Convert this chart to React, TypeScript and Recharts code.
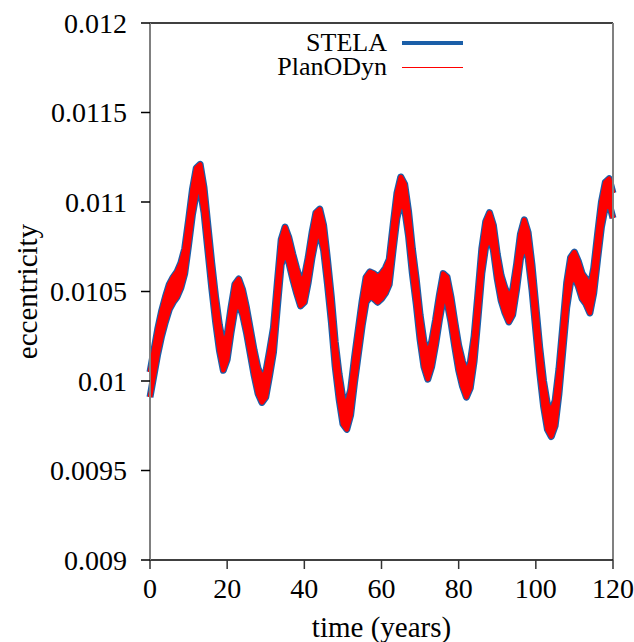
import { Area, ComposedChart, ReferenceLine, XAxis, YAxis } from 'recharts'

const years = Array.from({ length: 121 }, (_, i) => i)

// mean eccentricity, one value per year
const eccMid = [
  0.00998, 0.0101, 0.01022, 0.01032, 0.0104, 0.01047, 0.01051, 0.01054, 0.01059, 0.01067,
  0.01083, 0.011, 0.01112, 0.01114, 0.01101, 0.0108, 0.01059, 0.0104, 0.01024, 0.01013,
  0.01019, 0.01034, 0.01047, 0.0105, 0.01044, 0.01034, 0.01022, 0.0101, 0.01, 0.00995,
  0.00998, 0.0101, 0.01023, 0.01048, 0.01072, 0.01079, 0.01073, 0.01064, 0.01056, 0.01049,
  0.01051, 0.01062, 0.01076, 0.01087, 0.01089, 0.0108, 0.01061, 0.0104, 0.01015, 0.00997,
  0.00983, 0.0098, 0.00988, 0.01006, 0.01022, 0.01038, 0.01051, 0.01054, 0.01053, 0.01051,
  0.01053, 0.01056, 0.01061, 0.0108, 0.01098, 0.01107, 0.01103, 0.01088, 0.01067, 0.0105,
  0.0103, 0.01015, 0.01008, 0.01015, 0.01027, 0.01041, 0.01053, 0.01051, 0.0104, 0.01026,
  0.01013, 0.01004, 0.00998, 0.01003, 0.01018, 0.01042, 0.01067, 0.01082, 0.01087, 0.0108,
  0.01064, 0.01052, 0.01045, 0.0104, 0.01044, 0.01058, 0.01075, 0.01083, 0.01076, 0.01058,
  0.01035, 0.01012, 0.00993, 0.0098, 0.00976, 0.00982, 0.01, 0.01024, 0.01048, 0.01062,
  0.01065, 0.0106, 0.01053, 0.0105, 0.01045, 0.01056, 0.01075, 0.01093, 0.01104, 0.01106,
  0.01098,
]

// half-width of the fast short-period oscillation band
const stelaHalf = 0.00007
const planHalf = 0.00007

const xTicks = [0, 20, 40, 60, 80, 100, 120]
const yTicks = [0.009, 0.0095, 0.01, 0.0105, 0.011, 0.0115, 0.012]

const BLUE = '#1b5fa8'
const RED = '#ff0000'
const FONT = 'Liberation Serif'

const rows = years.map((t, i) => ({
  t,
  stela: [eccMid[i] - stelaHalf, eccMid[i] + stelaHalf],
  plan: [eccMid[i] - planHalf, eccMid[i] + planHalf],
}))

const legendItems = [
  { label: 'STELA', color: BLUE, w: 4 },
  { label: 'PlanODyn', color: RED, w: 1 },
]

function LegendBox() {
  return (
    <div style={{ position: 'absolute', left: 227, top: 31, fontFamily: FONT, fontSize: 26, color: '#000' }}>
      {legendItems.map((it) => (
        <div key={it.label} style={{ display: 'flex', alignItems: 'center', height: 24, lineHeight: '24px' }}>
          <span style={{ width: 160, textAlign: 'right' }}>{it.label}</span>
          <span style={{ width: 61, height: it.w, background: it.color, marginLeft: 15 }} />
        </div>
      ))}
    </div>
  )
}

export default function App() {
  return (
    <div style={{ position: 'absolute', left: 0, top: 0, width: 634, height: 642, background: '#fff', fontFamily: FONT }}>
      <ComposedChart width={634} height={642} data={rows} margin={{ top: 23, right: 21, bottom: 0, left: 0 }} style={{ fontFamily: FONT }}>
        <XAxis
          dataKey="t"
          type="number"
          domain={[0, 120]}
          ticks={xTicks}
          height={82}
          tickSize={9}
          tickMargin={9}
          axisLine={{ stroke: '#000', strokeWidth: 1.5 }}
          tickLine={{ stroke: '#333', strokeWidth: 1.5 }}
          tick={{ fill: '#000', fontFamily: FONT, fontSize: 28 }}
          label={({ viewBox }: any) => (
            <text x={viewBox.x + viewBox.width / 2} y={627} textAnchor="middle" dominantBaseline="central" fontFamily={FONT} fontSize={29} fill="#000">
              time (years)
            </text>
          )}
        />
        <YAxis
          type="number"
          domain={[0.009, 0.012]}
          ticks={yTicks}
          width={150}
          tickSize={9}
          tickMargin={14}
          axisLine={{ stroke: '#808080', strokeWidth: 2 }}
          tickLine={{ stroke: '#000', strokeWidth: 1.5 }}
          tick={{ fill: '#000', fontFamily: FONT, fontSize: 28 }}
          label={({ viewBox }: any) => {
            const cy = viewBox.y + viewBox.height / 2
            return (
              <text x={27} y={cy} transform={`rotate(-90 27 ${cy})`} textAnchor="middle" dominantBaseline="central" fontFamily={FONT} fontSize={29} fill="#000">
                eccentricity
              </text>
            )
          }}
        />
        <ReferenceLine y={0.012} stroke="#000" strokeWidth={1.5} />
        <ReferenceLine x={120} stroke="#808080" strokeWidth={2} />
        <Area
          type="linear"
          dataKey="stela"
          name="STELA"
          stroke={BLUE}
          strokeWidth={7}
          strokeLinejoin="round"
          fill={BLUE}
          fillOpacity={1}
          isAnimationActive={false}
        />
        <Area
          type="linear"
          dataKey="plan"
          name="PlanODyn"
          stroke={RED}
          strokeWidth={4.5}
          strokeLinejoin="round"
          fill={RED}
          fillOpacity={1}
          isAnimationActive={false}
        />
      </ComposedChart>
      <LegendBox />
    </div>
  )
}
